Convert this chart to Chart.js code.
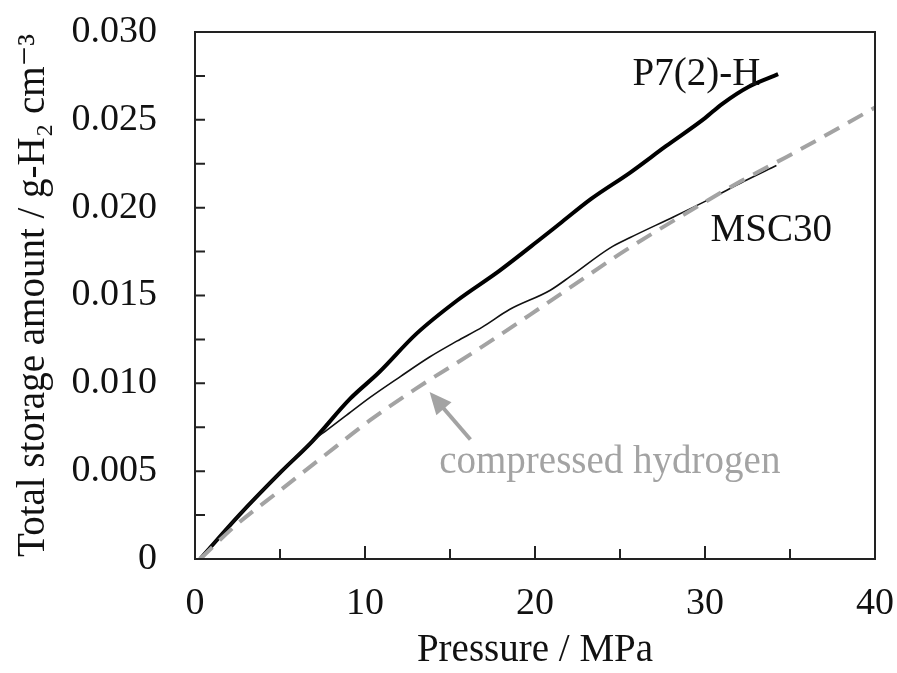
<!DOCTYPE html>
<html>
<head>
<meta charset="utf-8">
<script src="https://cdn.jsdelivr.net/npm/chart.js@4"></script>
<style>
  html, body { margin: 0; padding: 0; background: #fff; }
  #wrap { width: 897px; height: 673px; }
</style>
</head>
<body>
<div id="wrap"><canvas id="chart"></canvas></div>
<script>
// pressure (MPa) / storage (g-H2 cm-3)
const p7Pressure = [0.3, 2.6, 5.1, 6.9, 9.1, 10.8, 13.0, 15.4, 17.9, 20.3, 21.6, 23.3, 25.6, 27.7, 30.0, 31.0, 32.6, 34.3];
const p7Amount   = [0, 0.0025, 0.0050, 0.0067, 0.0091, 0.0106, 0.0128, 0.0147, 0.0164, 0.0182, 0.0192, 0.0205, 0.0220, 0.0235, 0.0251, 0.0259, 0.0269, 0.0276];

const mscPressure = [0.3, 2.6, 5.1, 6.9, 7.7, 8.8, 10.3, 12.1, 13.8, 15.4, 16.9, 18.5, 20.9, 22.1, 24.4, 25.6, 28.2, 30.3, 32.3, 34.2];
const mscAmount   = [0, 0.0025, 0.0050, 0.0067, 0.0073, 0.0081, 0.0092, 0.0104, 0.0115, 0.0124, 0.0132, 0.0142, 0.0153, 0.0161, 0.0177, 0.0183, 0.0195, 0.0205, 0.0215, 0.0224];

const h2Pressure = [0.3, 2.5, 5.0, 7.5, 10.3, 13.0, 16.6, 19.7, 23.2, 25.2, 28.4, 32.1, 35.2, 40];
const h2Amount   = [0, 0.0020, 0.0039, 0.0058, 0.0079, 0.0097, 0.0119, 0.0139, 0.0162, 0.0175, 0.0194, 0.0215, 0.0231, 0.0257];

const xTicks = [0, 10, 20, 30, 40];
const yTicks = [0, 0.005, 0.010, 0.015, 0.020, 0.025, 0.030];

const serif = '"Liberation Serif", "DejaVu Serif", serif';
const grey = '#a3a3a3';

function toPoints(xs, ys) {
    return xs.map((x, i) => ({ x: x, y: ys[i] }));
}

// box, inward ticks, labels and the arrow
const decorations = {
    id: 'decorations',
    afterDraw(chart) {
        const ctx = chart.ctx;
        const area = chart.chartArea;
        const xs = chart.scales.x;
        const ys = chart.scales.y;
        ctx.save();
        ctx.strokeStyle = '#222';
        ctx.lineWidth = 2;
        ctx.strokeRect(area.left, area.top, area.right - area.left, area.bottom - area.top);

        ctx.beginPath();
        for (let v = 5; v < 40; v += 5) {
            const px = xs.getPixelForValue(v);
            const len = v % 10 === 0 ? 13 : 10;
            ctx.moveTo(px, area.bottom);
            ctx.lineTo(px, area.bottom - len);
        }
        for (let i = 1; i < 12; i++) {
            const py = ys.getPixelForValue(i * 0.0025);
            ctx.moveTo(area.left, py);
            ctx.lineTo(area.left + 10, py);
        }
        ctx.stroke();

        ctx.font = '39px ' + serif;
        ctx.textAlign = 'center';
        ctx.textBaseline = 'middle';
        ctx.fillStyle = '#111';
        ctx.fillText('P7(2)-H', xs.getPixelForValue(29.5), ys.getPixelForValue(0.02755));
        ctx.fillText('MSC30', xs.getPixelForValue(33.9), ys.getPixelForValue(0.0187));
        ctx.fillStyle = grey;
        ctx.fillText('compressed hydrogen', xs.getPixelForValue(24.4), ys.getPixelForValue(0.0055));

        // arrow
        const x0 = xs.getPixelForValue(16.2), y0 = ys.getPixelForValue(0.0068);
        const x1 = xs.getPixelForValue(13.8), y1 = ys.getPixelForValue(0.0095);
        const ang = Math.atan2(y1 - y0, x1 - x0);
        ctx.strokeStyle = grey;
        ctx.lineWidth = 4;
        ctx.beginPath();
        ctx.moveTo(x0, y0);
        ctx.lineTo(x1 - 14 * Math.cos(ang), y1 - 14 * Math.sin(ang));
        ctx.stroke();
        ctx.beginPath();
        ctx.moveTo(x1, y1);
        ctx.lineTo(x1 - 22 * Math.cos(ang) + 10 * Math.sin(ang), y1 - 22 * Math.sin(ang) - 10 * Math.cos(ang));
        ctx.lineTo(x1 - 22 * Math.cos(ang) - 10 * Math.sin(ang), y1 - 22 * Math.sin(ang) + 10 * Math.cos(ang));
        ctx.closePath();
        ctx.fill();
        ctx.restore();
    }
};

new Chart(document.getElementById('chart'), {
    type: 'scatter',
    data: {
        datasets: [
            {
                label: 'compressed hydrogen',
                data: toPoints(h2Pressure, h2Amount),
                showLine: true,
                borderColor: grey,
                borderWidth: 4,
                borderDash: [17, 10],
                pointRadius: 0,
                cubicInterpolationMode: 'monotone'
            },
            {
                label: 'MSC30',
                data: toPoints(mscPressure, mscAmount),
                showLine: true,
                borderColor: '#111',
                borderWidth: 1.6,
                pointRadius: 0,
                cubicInterpolationMode: 'monotone'
            },
            {
                label: 'P7(2)-H',
                data: toPoints(p7Pressure, p7Amount),
                showLine: true,
                borderColor: '#000',
                borderWidth: 4,
                pointRadius: 0,
                cubicInterpolationMode: 'monotone'
            }
        ]
    },
    options: {
        responsive: true,
        maintainAspectRatio: false,
        animation: false,
        layout: { padding: { top: 32, right: 22, left: 0, bottom: 0 } },
        plugins: {
            legend: { display: false },
            tooltip: { enabled: false }
        },
        scales: {
            x: {
                type: 'linear',
                min: 0,
                max: 40,
                afterBuildTicks: (scale) => { scale.ticks = xTicks.map(v => ({ value: v })); },
                afterFit: (scale) => {
                    scale.height = 114;
                    scale.paddingLeft = 0;
                    scale.paddingRight = 0;
                },
                grid: { display: false, drawTicks: false },
                border: { display: false },
                ticks: {
                    color: '#111',
                    padding: 22,
                    maxRotation: 0,
                    font: { family: serif, size: 38 }
                },
                title: {
                    display: true,
                    text: 'Pressure / MPa',
                    color: '#111',
                    padding: { top: 0, bottom: -1 },
                    font: { family: serif, size: 39 }
                }
            },
            y: {
                type: 'linear',
                min: 0,
                max: 0.030,
                afterBuildTicks: (scale) => { scale.ticks = yTicks.map(v => ({ value: v })); },
                afterFit: (scale) => {
                    scale.width = 195;
                    scale.paddingTop = 0;
                    scale.paddingBottom = 0;
                },
                grid: { display: false, drawTicks: false },
                border: { display: false },
                ticks: {
                    color: '#111',
                    padding: 38,
                    font: { family: serif, size: 38 },
                    callback: (v) => v === 0 ? '0' : v.toFixed(3)
                },
                title: {
                    display: true,
                    text: 'Total storage amount / g-H\u2082 cm\u207B\u00B3',
                    color: '#111',
                    padding: { top: 10, bottom: 0 },
                    font: { family: serif, size: 39 }
                }
            }
        }
    },
    plugins: [decorations]
});
</script>
</body>
</html>
